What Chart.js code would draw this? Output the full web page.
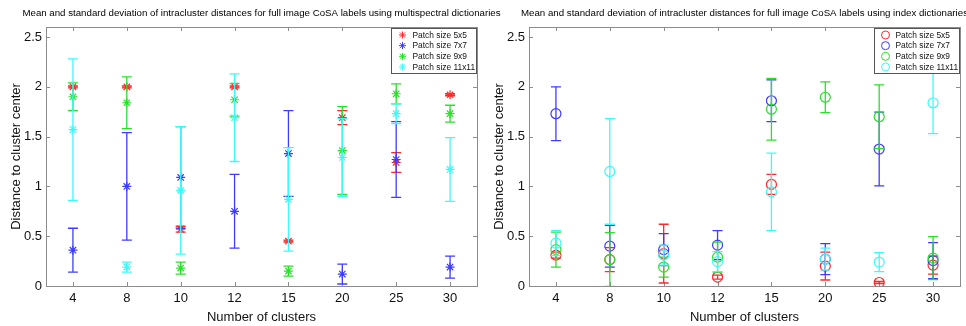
<!DOCTYPE html>
<html>
<head>
<meta charset="utf-8">
<script src="https://cdn.jsdelivr.net/npm/chart.js@4.4.1/dist/chart.umd.min.js"></script>
<style>
  html, body { margin: 0; padding: 0; background: #ffffff; width: 966px; height: 326px; overflow: hidden; position: relative; }
  canvas { position: absolute; top: 0; }
  #left { left: 0px; }
  #right { left: 483px; }
</style>
</head>
<body>
<canvas id="left" width="523" height="326"></canvas>
<canvas id="right" width="523" height="326"></canvas>
<script>
// ---------- data ----------
const clusterLabels = ['4', '8', '10', '12', '15', '20', '25', '30'];
const seriesNames = ['Patch size 5x5', 'Patch size 7x7', 'Patch size 9x9', 'Patch size 11x11'];
const yTickValues = [0, 0.5, 1, 1.5, 2, 2.5];
const yTickLabels = ['0', '0.5', '1', '1.5', '2', '2.5'];

const titleMulti = 'Mean and standard deviation of intracluster distances for full image CoSA labels using multispectral dictionaries';
const titleIndex = 'Mean and standard deviation of intracluster distances for full image CoSA labels using index dictionaries';
const yTitle = 'Distance to cluster center';
const xTitle = 'Number of clusters';

// multispectral dictionaries (left)
const msMean5x5   = [2.00, 2.00, 0.57, 2.00, 0.45, 1.69, 1.24, 1.92];
const msStd5x5    = [0.01, 0.01, 0.03, 0.01, 0.01, 0.07, 0.10, 0.01];
const msMean7x7   = [0.36, 1.00, 1.09, 0.75, 1.33, 0.12, 1.27, 0.19];
const msStd7x7    = [0.22, 0.54, 0.51, 0.37, 0.43, 0.10, 0.38, 0.11];
const msMean9x9   = [1.90, 1.84, 0.18, 1.87, 0.15, 1.36, 1.93, 1.73];
const msStd9x9    = [0.14, 0.26, 0.06, 0.165, 0.05, 0.44, 0.10, 0.085];
const msMean11x11 = [1.57, 0.19, 0.96, 1.69, 0.87, 1.29, 1.73, 1.17];
const msStd11x11  = [0.71, 0.05, 0.64, 0.44, 0.52, 0.39, 0.10, 0.32];

// index dictionaries (right)
const idxMean5x5   = [0.31, 0.265, 0.325, 0.09, 1.02, 0.20, 0.035, 0.21];
const idxStd5x5    = [0.03, 0.12, 0.295, 0.02, 0.10, 0.14, 0.01, 0.09];
const idxMean7x7   = [1.73, 0.40, 0.365, 0.41, 1.86, 0.27, 1.375, 0.255];
const idxStd7x7    = [0.27, 0.21, 0.16, 0.145, 0.21, 0.155, 0.37, 0.18];
const idxMean9x9   = [0.365, 0.265, 0.19, 0.29, 1.775, 1.895, 1.70, 0.28];
const idxStd9x9    = [0.175, 0.27, 0.10, 0.15, 0.31, 0.155, 0.32, 0.215];
const idxMean11x11 = [0.43, 1.15, 0.31, 0.245, 0.945, 0.27, 0.24, 1.84];
const idxStd11x11  = [0.125, 0.53, 0.10, 0.10, 0.39, 0.11, 0.095, 0.31];

// ---------- styling ----------
const seriesColors = ['rgb(255,40,40)', 'rgb(60,60,255)', 'rgb(40,225,40)', 'rgb(60,250,250)'];
const FONT = "'Liberation Sans', Arial, sans-serif";
const AXIS_COLOR = '#8c8c8c';

function errorData(means, stds) {
  const out = [];
  means.forEach((m, i) => {
    out.push({ x: clusterLabels[i], y: m - stds[i] });
    out.push({ x: clusterLabels[i], y: m + stds[i] });
    out.push({ x: clusterLabels[i], y: null });
  });
  return out;
}

// inward ticks + axes box
const boxAxesPlugin = {
  id: 'boxAxes',
  beforeDatasetsDraw(chart) {
    const { ctx, chartArea: a, scales } = chart;
    ctx.save();
    ctx.strokeStyle = AXIS_COLOR;
    ctx.lineWidth = 1;
    ctx.strokeRect(Math.round(a.left) + 0.5, Math.round(a.top) + 0.5, Math.round(a.right - a.left), Math.round(a.bottom - a.top));
    const tl = 4;
    ctx.beginPath();
    scales.x.ticks.forEach((t, i) => {
      const px = Math.round(scales.x.getPixelForTick(i)) + 0.5;
      ctx.moveTo(px, a.bottom); ctx.lineTo(px, a.bottom - tl);
      ctx.moveTo(px, a.top); ctx.lineTo(px, a.top + tl);
    });
    scales.y.ticks.forEach((t, i) => {
      const py = Math.round(scales.y.getPixelForTick(i)) + 0.5;
      ctx.moveTo(a.left, py); ctx.lineTo(a.left + tl, py);
      ctx.moveTo(a.right, py); ctx.lineTo(a.right - tl, py);
    });
    ctx.stroke();
    ctx.restore();
  }
};

// MATLAB-like boxed legend inside top-right corner
const boxLegendPlugin = {
  id: 'boxLegend',
  afterDraw(chart, args, opts) {
    const { ctx, chartArea: a } = chart;
    const w = 85, h = 45;
    const x0 = Math.round(a.right - w - 1) + 0.5, y0 = Math.round(a.top + 1) + 0.5;
    ctx.save();
    ctx.fillStyle = '#ffffff';
    ctx.fillRect(x0, y0, w, h);
    ctx.strokeStyle = '#555555';
    ctx.lineWidth = 1;
    ctx.strokeRect(x0, y0, w, h);
    ctx.font = '8.4px ' + FONT;
    ctx.textBaseline = 'middle';
    ctx.textAlign = 'left';
    const metas = chart.data.datasets.filter(d => d.isMarker);
    metas.forEach((d, i) => {
      const cy = y0 + 6.5 + i * 10.67;
      const cx = x0 + 11;
      ctx.strokeStyle = d.pointBorderColor;
      ctx.lineWidth = 1;
      ctx.beginPath();
      if (opts.style === 'star') {
        const r = 3.5;
        ctx.moveTo(cx - r, cy); ctx.lineTo(cx + r, cy);
        ctx.moveTo(cx, cy - r); ctx.lineTo(cx, cy + r);
        const q = r * 0.72;
        ctx.moveTo(cx - q, cy - q); ctx.lineTo(cx + q, cy + q);
        ctx.moveTo(cx - q, cy + q); ctx.lineTo(cx + q, cy - q);
      } else {
        ctx.arc(cx, cy, 4, 0, Math.PI * 2);
      }
      ctx.stroke();
      ctx.fillStyle = '#111111';
      ctx.fillText(d.label, x0 + 21, cy + 0.5);
    });
    ctx.restore();
  }
};

function makeChart(id, title, means, stds, style, radius) {
  const datasets = [];
  let order = 8;
  means.forEach((m, k) => {
    datasets.push({
      type: 'line',
      label: seriesNames[k] + ' err',
      data: errorData(m, stds[k]),
      borderColor: seriesColors[k],
      borderWidth: 1.3,
      showLine: true,
      spanGaps: false,
      pointStyle: 'line',
      pointRadius: 5,
      pointHoverRadius: 5,
      pointBorderWidth: 1.3,
      pointBorderColor: seriesColors[k],
      order: order--
    });
    datasets.push({
      type: 'line',
      label: seriesNames[k],
      isMarker: true,
      data: m,
      showLine: false,
      pointStyle: style,
      pointRadius: radius,
      pointHoverRadius: radius,
      pointBorderWidth: 1.2,
      pointBorderColor: seriesColors[k],
      pointBackgroundColor: 'rgba(0,0,0,0)',
      borderColor: seriesColors[k],
      order: order--
    });
  });

  return new Chart(document.getElementById(id), {
    type: 'line',
    data: { labels: clusterLabels, datasets },
    plugins: [boxAxesPlugin, boxLegendPlugin],
    options: {
      responsive: false,
      animation: false,
      devicePixelRatio: 1,
      layout: { padding: 0 },
      plugins: {
        legend: { display: false },
        tooltip: { enabled: false },
        boxLegend: { style },
        title: {
          display: true,
          text: title,
          color: '#000000',
          font: { family: FONT, size: 9.7, weight: 'normal' },
          padding: { top: 8, bottom: 7.4 }
        }
      },
      scales: {
        x: {
          type: 'category',
          offset: true,
          grid: { display: false, drawTicks: false },
          border: { display: false },
          ticks: { color: '#111111', font: { family: FONT, size: 13 }, padding: 5, maxRotation: 0, autoSkip: false },
          title: { display: true, text: xTitle, color: '#111111', font: { family: FONT, size: 13 }, padding: { top: 0, bottom: 1 } },
          afterFit(s) { s.height = 40; }
        },
        y: {
          type: 'linear',
          position: 'left',
          min: 0,
          max: 2.6,
          grid: { display: false, drawTicks: false },
          border: { display: false },
          afterBuildTicks(s) { s.ticks = yTickValues.map(v => ({ value: v })); },
          ticks: {
            color: '#111111', font: { family: FONT, size: 13 }, padding: 4, includeBounds: false,
            callback: (v) => yTickLabels[yTickValues.indexOf(v)]
          },
          title: { display: true, text: yTitle, color: '#111111', font: { family: FONT, size: 13 }, padding: { top: 9, bottom: 0 } },
          afterFit(s) { s.width = 46; }
        },
        yRight: {
          type: 'linear',
          position: 'right',
          min: 0,
          max: 2.6,
          grid: { display: false, drawTicks: false },
          border: { display: false },
          ticks: { display: false },
          afterFit(s) { s.width = 46; }
        }
      }
    }
  });
}

makeChart('left', titleMulti,
  [msMean5x5, msMean7x7, msMean9x9, msMean11x11],
  [msStd5x5, msStd7x7, msStd9x9, msStd11x11], 'star', 4.5);
makeChart('right', titleIndex,
  [idxMean5x5, idxMean7x7, idxMean9x9, idxMean11x11],
  [idxStd5x5, idxStd7x7, idxStd9x9, idxStd11x11], 'circle', 5);
</script>
</body>
</html>
